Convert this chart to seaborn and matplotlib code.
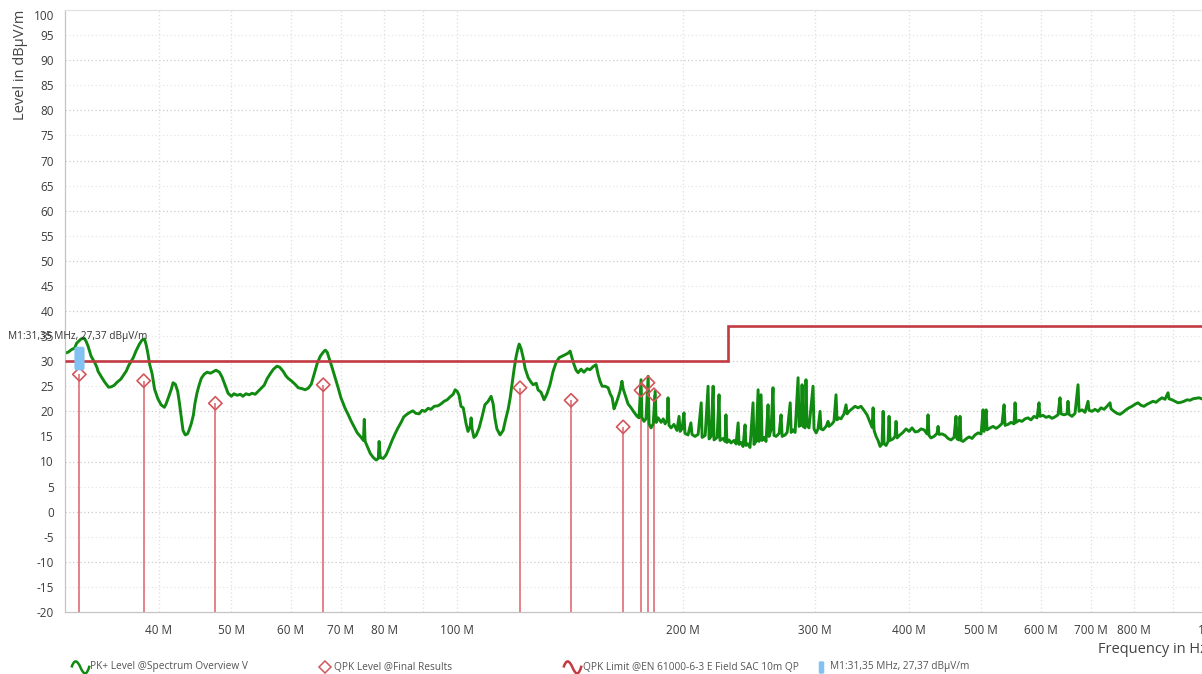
import matplotlib
matplotlib.use("Agg")
import numpy as np
import matplotlib.pyplot as plt
from matplotlib.path import Path
from matplotlib.lines import Line2D
from matplotlib.ticker import FixedLocator, FixedFormatter, NullLocator
import seaborn as sns

# ---------------------------------------------------------------- data
# PK+ sweep (frequency in MHz, level in dBuV/m)
pk_freq_mhz = [
    30.0, 30.3, 30.6, 30.9, 31.1, 31.5, 31.8, 32.0, 32.2, 32.5, 32.9, 33.1, 33.2, 33.6, 33.9,
    34.3, 34.6, 34.9, 35.2, 35.6, 35.9, 36.2, 36.5, 37.0, 37.3, 37.7, 38.0, 38.3, 38.5, 38.7,
    38.9, 39.2, 39.5, 39.9, 40.3, 40.7, 40.9, 41.2, 41.6, 41.8, 42.1, 42.4, 42.6, 42.9, 43.1,
    43.4, 43.7, 43.9, 44.2, 44.5, 44.7, 45.0, 45.3, 45.6, 46.0, 46.4, 46.9, 47.3, 47.7, 48.2,
    48.6, 49.1, 49.5, 50.0, 50.4, 50.9, 51.4, 51.8, 52.3, 52.8, 53.3, 53.8, 54.3, 54.8, 55.3,
    55.8, 56.4, 56.9, 57.5, 58.0, 58.6, 59.1, 59.5, 60.2, 60.8, 61.4, 62.2, 62.7, 63.3, 63.9,
    64.5, 65.1, 65.7, 66.3, 66.7, 67.1, 67.5, 68.1, 68.8, 69.4, 70.0, 70.9, 71.6, 72.2, 72.9,
    73.6, 74.3, 75.0, 75.2, 75.4, 75.9, 76.6, 77.3, 78.0, 78.5, 78.7, 79.0, 79.7, 80.4, 81.1,
    81.9, 82.7, 83.4, 84.2, 84.9, 85.7, 86.5, 87.3, 88.1, 89.0, 89.8, 90.6, 91.5, 92.3, 93.2,
    94.3, 95.2, 96.1, 97.0, 97.9, 98.8, 99.4, 100.0, 100.6,
    101.2, 101.9, 102.8, 103.4, 104.1, 104.4, 104.7, 105.3, 106.0, 107.0, 108.0, 108.9, 110.0,
    111.0, 111.7, 112.3, 113.0, 114.1, 115.2, 115.9, 117.0, 117.7, 118.4, 119.2, 119.9, 120.6,
    121.0, 121.7, 122.5, 123.2, 124.4, 125.5, 126.3, 127.5, 128.2, 129.4, 130.6, 131.8, 133.0,
    134.3, 135.5, 136.8, 138.1, 139.4, 140.6, 141.5, 142.4, 143.2, 144.1, 145.0, 146.3, 147.6,
    149.1, 150.4, 151.8, 153.2, 154.2, 155.1, 156.1, 157.6, 159.0, 160.0, 161.0, 161.9, 162.9,
    163.9, 164.9, 165.9, 166.5, 167.5, 169.0, 170.6, 172.2, 173.8, 174.8, 175.9, 176.4, 177.5,
    178.6, 179.8, 180.3, 181.4, 182.6, 183.7, 184.3, 185.4, 187.1, 188.3, 189.4, 190.6, 191.1,
    191.7, 192.9, 194.6, 196.4, 197.7, 198.3, 199.5, 200.7, 201.3, 203.2, 205.0, 205.7, 207.6,
    209.6, 211.6, 212.2, 214.2, 216.1, 216.8, 218.1, 219.5, 220.1, 222.2, 223.5, 224.2, 226.3,
    227.7, 228.3, 229.0, 230.5, 231.9, 234.0, 235.5, 237.0, 237.7, 239.1, 240.6, 242.1, 242.8,
    244.3, 245.8, 248.1, 248.8, 250.4, 252.0, 252.7, 254.3, 255.1, 256.6, 258.2, 259.8, 260.6,
    262.2, 263.8, 264.6, 266.3, 268.8, 270.4, 271.3, 273.8, 275.5, 278.1, 278.9, 280.6, 282.3,
    284.9, 285.8, 287.5, 288.4, 289.3, 291.1, 291.9, 292.8, 294.6, 298.3, 299.2, 301.1, 302.9,
    304.8, 305.7, 307.6, 310.5, 312.4, 313.3, 316.2, 318.1, 320.1, 321.1, 323.1, 325.0, 328.1,
    330.1, 331.2, 333.2, 336.2, 339.3, 342.5, 345.6, 348.8, 352.1, 355.4, 357.6, 358.7, 359.8,
    362.0, 364.2, 366.5, 368.7, 369.9, 371.0, 373.3, 375.6, 376.7, 377.9, 381.3, 383.7, 384.9,
    386.1, 389.6, 393.2, 396.9, 400.6, 404.3, 408.1, 411.8, 415.6, 419.5, 423.3, 424.6, 425.9,
    428.5, 432.5, 436.5, 437.9, 439.2, 443.3, 447.4, 451.5, 455.7, 459.9, 462.7, 464.1, 467.0,
    468.4, 469.9, 472.8, 477.1, 481.6, 486.0, 490.6, 495.1, 499.7, 502.8, 504.4, 507.5, 509.0,
    513.8, 518.5, 523.3, 528.1, 533.0, 536.3, 537.9, 542.9, 547.9, 553.0, 554.7, 556.4, 561.5,
    566.7, 571.9, 577.2, 582.5, 587.9, 593.4, 597.0, 598.8, 604.4, 610.0, 615.7, 621.4, 627.1,
    632.9, 636.8, 638.8, 644.7, 650.6, 652.6, 654.6, 660.6, 666.8, 673.0, 675.1, 681.3, 687.6,
    694.0, 696.1, 702.5, 709.0, 715.6, 722.2, 728.9, 735.6, 742.5, 744.7, 751.6, 758.5, 765.6,
    772.6, 779.8, 787.0, 794.3, 801.6, 809.1, 816.6, 824.1, 831.8, 839.4, 847.2, 855.1, 863.0,
    871.0, 879.0, 887.2, 889.9, 898.1, 906.4, 914.8, 923.3, 931.8, 940.5, 949.2, 958.0, 966.8,
    975.8, 987.9, 1000.0,
]
pk_level = [
    31.6, 31.8, 32.3, 32.6, 33.6, 34.4, 34.6, 34.0, 33.0, 31.0, 29.6, 28.7, 28.0, 26.7, 25.8,
    24.8, 24.9, 25.2, 25.8, 26.4, 27.2, 28.0, 29.2, 30.7, 32.0, 33.4, 34.2, 34.4, 33.2, 31.5,
    29.4, 27.5, 24.4, 22.5, 21.3, 20.8, 21.4, 22.7, 24.5, 25.7, 25.4, 24.0, 22.0, 18.5, 16.2,
    15.3, 15.5, 16.2, 17.5, 19.3, 21.5, 23.7, 25.3, 26.6, 27.4, 27.8, 27.6, 27.9, 28.2, 27.8,
    26.8, 25.0, 23.6, 23.0, 23.5, 23.2, 23.4, 23.0, 23.5, 23.3, 23.6, 23.4, 24.0, 24.6, 25.2,
    26.5, 27.6, 28.4, 29.0, 28.8, 28.0, 27.1, 26.6, 26.0, 25.4, 24.7, 24.5, 24.3, 24.6, 25.4,
    27.5, 29.6, 31.0, 31.8, 32.2, 31.8, 30.6, 28.8, 26.6, 24.7, 22.7, 20.6, 19.3, 18.1, 16.9,
    15.7, 15.0, 14.2, 18.4, 14.0, 13.0, 11.6, 10.8, 10.3, 10.6, 14.0, 10.8, 10.6, 11.3, 12.6,
    14.2, 15.6, 16.7, 17.8, 18.9, 19.4, 19.8, 20.1, 19.6, 19.5, 20.2, 20.0, 20.6, 20.4, 21.0,
    21.1, 21.5, 22.0, 22.3, 22.9, 23.4, 24.3, 24.0, 23.2,
    21.0, 20.7, 17.5, 16.0, 17.0, 18.7, 16.5, 14.8, 15.2, 16.7, 19.0, 21.3, 22.0,
    23.0, 21.5, 18.7, 16.5, 15.3, 16.2, 18.0, 20.5, 22.7, 25.5, 28.7, 31.0, 32.7,
    33.4, 32.5, 30.7, 28.6, 26.7, 25.8, 25.3, 25.6, 24.3, 23.8, 22.3, 23.5, 25.3,
    28.0, 29.7, 30.7, 31.0, 31.3, 31.6, 32.0, 30.5, 29.3, 28.2, 27.7, 28.4, 27.8,
    28.5, 28.3, 28.9, 29.3, 27.3, 26.0, 25.0, 25.0, 24.7, 23.5, 22.7, 20.5, 21.5,
    22.7, 24.0, 26.0, 24.5, 23.3, 21.5, 20.7, 19.8, 19.0, 18.7, 26.3, 18.8, 18.0,
    18.5, 27.0, 17.5, 16.7, 17.5, 24.0, 17.8, 18.7, 17.8, 18.5, 17.5, 18.3, 22.7,
    17.2, 16.7, 17.4, 16.2, 19.0, 16.0, 16.5, 19.7, 15.6, 15.3, 17.7, 15.4, 15.0,
    15.4, 21.7, 14.8, 15.2, 25.0, 14.5, 15.0, 25.0, 14.3, 14.8, 23.3, 14.2, 14.6,
    14.0, 19.3, 13.8, 14.3, 13.7, 14.2, 13.5, 17.7, 13.4, 13.8, 13.0, 17.3, 13.2,
    13.5, 12.8, 21.7, 13.4, 14.0, 24.3, 14.0, 23.3, 14.2, 14.8, 14.0, 21.3, 15.0,
    16.3, 24.7, 15.2, 15.0, 15.6, 19.3, 15.0, 15.3, 15.8, 21.7, 15.8, 16.3, 15.8,
    26.7, 17.0, 17.3, 25.3, 17.0, 16.7, 26.3, 17.3, 16.7, 25.0, 16.5, 15.7, 16.5,
    20.0, 16.5, 16.3, 17.0, 18.0, 17.0, 17.5, 18.0, 23.3, 18.3, 18.7, 18.5, 19.5,
    21.3, 19.5, 20.0, 20.5, 21.0, 20.7, 21.0, 20.2, 19.3, 17.8, 16.8, 20.7, 16.2,
    15.0, 14.2, 13.0, 13.5, 20.0, 13.5, 13.2, 14.0, 19.0, 14.2, 14.5, 15.0, 18.0,
    14.7, 15.3, 15.8, 16.5, 16.0, 16.7, 15.9, 16.0, 16.5, 16.3, 15.5, 19.3, 15.2,
    14.7, 15.0, 15.6, 17.0, 15.4, 15.5, 15.2, 14.6, 14.3, 14.8, 19.0, 14.5, 14.3,
    19.0, 14.2, 14.0, 14.5, 14.9, 14.6, 15.3, 15.7, 15.5, 20.3, 16.0, 20.3, 16.3,
    16.7, 17.0, 16.6, 17.0, 17.6, 21.3, 17.2, 17.4, 17.8, 17.5, 21.7, 17.8, 18.2,
    18.0, 18.5, 18.7, 18.3, 19.0, 18.7, 21.7, 19.0, 19.2, 18.8, 19.0, 18.6, 18.9,
    19.3, 22.7, 19.5, 19.3, 19.5, 22.0, 19.4, 19.0, 19.6, 25.3, 20.0, 20.3, 19.8,
    22.0, 20.2, 20.0, 20.4, 20.0, 20.7, 20.4, 21.0, 21.7, 20.5, 20.0, 19.6, 19.4,
    19.8, 20.3, 20.7, 21.0, 21.4, 21.7, 21.2, 21.0, 21.4, 21.7, 22.0, 21.8, 22.3,
    22.7, 22.4, 23.7, 22.5, 22.3, 22.0, 21.7, 21.8, 22.0, 22.3, 22.2, 22.5, 22.6,
    22.7, 22.4, 22.6,
]

# QPK final measurements
qpk_freq_mhz = [31.35, 38.2, 47.6, 66.3, 121.3, 141.9, 166.5, 175.9, 179.7, 183.0]
qpk_level = [27.37, 26.1, 21.6, 25.3, 24.7, 22.2, 16.9, 24.2, 25.7, 23.3]

# EN 61000-6-3 QP limit: level per band, band edges in MHz
limit_edges_mhz = [30, 230, 1000]
limit_level = [30, 37]

# Marker M1
marker_freq_mhz = 31.35
marker_level = 27.37

x_ticks_mhz = [40, 50, 60, 70, 80, 90, 100, 200, 300, 400, 500, 600, 700, 800, 900, 1000]
x_tick_labels = ["40 M", "50 M", "60 M", "70 M", "80 M", "", "100 M", "200 M", "300 M",
                 "400 M", "500 M", "600 M", "700 M", "800 M", "", "1 G"]
y_ticks = list(range(-20, 101, 5))

legend_labels = ["PK+ Level @Spectrum Overview V",
                 "QPK Level @Final Results",
                 "QPK Limit @EN 61000-6-3 E Field SAC 10m QP"]

# ---------------------------------------------------------------- style
sns.set_theme(style="white")
plt.rcParams["font.family"] = ["Open Sans", "DejaVu Sans"]
plt.rcParams["axes.unicode_minus"] = False

GREEN = "#108a10"
LIMIT_RED = "#c23a42"
QPK_RED = "#d2575c"
STEM_RED = "#e2828a"
BLUE = "#82c2f2"
TXT = "#3c3c3c"

W, H = 1202, 674
fig = plt.figure(figsize=(W / 100, H / 100), dpi=100)
fig.patch.set_facecolor("white")

# plot area in pixels: left 65, right 1207 (runs past the canvas edge), top 10, bottom 612
L, R, T, B = 65, 1207, 10, 612
ax = fig.add_axes([L / W, 1 - B / H, (R - L) / W, (B - T) / H])
ax.set_xscale("log")
ax.set_xlim(30, 1000)
ax.set_ylim(-20, 100)

# dotted grid
for v in range(-10, 100, 10):
    ax.axhline(v, color="#cbcbcb", lw=0.9, ls=(0, (1, 2)), zorder=0)
for v in range(-15, 100, 10):
    ax.axhline(v, color="#e6e6e6", lw=0.9, ls=(0, (1, 2)), zorder=0)
for f in x_ticks_mhz[:-1]:
    ax.axvline(f, color="#dedede", lw=0.9, ls=(0, (1, 2)), zorder=0)


def rounded_rect(x0, y0, x1, y1, r):
    verts = [(x0 + r, y0), (x1 - r, y0), (x1, y0), (x1, y0 + r), (x1, y1 - r), (x1, y1),
             (x1 - r, y1), (x0 + r, y1), (x0, y1), (x0, y1 - r), (x0, y0 + r), (x0, y0),
             (x0 + r, y0), (x0 + r, y0)]
    codes = [Path.MOVETO, Path.LINETO, Path.CURVE3, Path.CURVE3, Path.LINETO, Path.CURVE3,
             Path.CURVE3, Path.LINETO, Path.CURVE3, Path.CURVE3, Path.LINETO, Path.CURVE3,
             Path.CURVE3, Path.CLOSEPOLY]
    return Path(verts, codes)


# QPK stems behind the trace
ax.vlines(qpk_freq_mhz, -20, qpk_level, color=STEM_RED, lw=1.4, zorder=1)

# PK+ trace
sns.lineplot(x=pk_freq_mhz, y=pk_level, ax=ax, color=GREEN, lw=2.1,
             sort=False, estimator=None, zorder=2)

# limit line
ax.stairs(limit_level, limit_edges_mhz, baseline=None, color=LIMIT_RED, lw=1.9, zorder=3)

# QPK diamonds
sns.scatterplot(x=qpk_freq_mhz, y=qpk_level, ax=ax, marker="D", s=46,
                facecolor="none", edgecolor=QPK_RED, linewidth=1.2, zorder=4)

# marker M1 flag sitting just above its point
flag = rounded_rect(-0.22, 0.18, 0.22, 1.2, 0.1)
ax.plot([marker_freq_mhz], [marker_level], marker=flag, ms=40, color=BLUE,
        mec="none", ls="none", zorder=6)

m1_text = "M1:{} MHz, {} dBμV/m".format(f"{marker_freq_mhz:.2f}".replace(".", ","),
                                          f"{marker_level:.2f}".replace(".", ","))
ax.annotate(m1_text, xy=(marker_freq_mhz, marker_level), xytext=(-71, 38),
            textcoords="offset pixels", ha="left", va="center", fontsize=7.3,
            color="#333333", zorder=7)

# axes, ticks, labels
ax.xaxis.set_major_locator(FixedLocator(x_ticks_mhz))
ax.xaxis.set_major_formatter(FixedFormatter(x_tick_labels))
ax.xaxis.set_minor_locator(NullLocator())
ax.set_yticks(y_ticks)
ax.tick_params(axis="both", which="major", direction="out", length=5, width=0.8,
               color="#b8b8b8", labelsize=8.5, labelcolor=TXT)
ax.tick_params(axis="x", pad=4)
ax.tick_params(axis="y", pad=3)
ax.get_yticklabels()[-1].set_verticalalignment("top")

for side in ("left", "bottom"):
    ax.spines[side].set_color("#c4c4c4")
    ax.spines[side].set_linewidth(0.9)
ax.spines["top"].set_color("#e2e2e2")
ax.spines["top"].set_linewidth(0.9)
ax.spines["right"].set_visible(False)

ax.set_xlabel("Frequency in Hz", loc="right", fontsize=10.5, color="#444444", labelpad=3)
ax.set_ylabel("Level in dBμV/m", loc="top", fontsize=10.5, color="#444444", labelpad=4)

# ---------------------------------------------------------------- legend row
def fx(px):
    return px / W


def fy(py):
    return 1 - py / H


wave = Path([(-1.0, 0.0), (-0.7, 0.9), (-0.4, 0.9), (0.0, 0.0),
             (0.4, -0.9), (0.7, -0.9), (1.0, 0.2)],
            [Path.MOVETO, Path.CURVE4, Path.CURVE4, Path.CURVE4,
             Path.CURVE4, Path.CURVE4, Path.CURVE4])
ly = 667
fig.add_artist(Line2D([fx(80)], [fy(ly)], transform=fig.transFigure, marker=wave, ms=13,
                      mfc="none", mec=GREEN, mew=1.8, ls="none"))
fig.text(fx(90), fy(ly), legend_labels[0], fontsize=7.3, color="#555555", va="center")
fig.add_artist(Line2D([fx(325)], [fy(ly)], transform=fig.transFigure, marker="D", ms=6.5,
                      mfc="none", mec=QPK_RED, mew=1.1, ls="none"))
fig.text(fx(334), fy(ly), legend_labels[1], fontsize=7.3, color="#555555", va="center")
fig.add_artist(Line2D([fx(572)], [fy(ly)], transform=fig.transFigure, marker=wave, ms=13,
                      mfc="none", mec=LIMIT_RED, mew=1.8, ls="none"))
fig.text(fx(583), fy(ly), legend_labels[2], fontsize=7.3, color="#555555", va="center")
fig.add_artist(Line2D([fx(821)], [fy(ly)], transform=fig.transFigure,
                      marker=rounded_rect(-0.22, -0.5, 0.22, 0.5, 0.12), ms=9,
                      color=BLUE, mec="none", ls="none"))
fig.text(fx(830), fy(ly), m1_text, fontsize=7.3, color="#555555", va="center")

fig.savefig("out.png", dpi=100)
